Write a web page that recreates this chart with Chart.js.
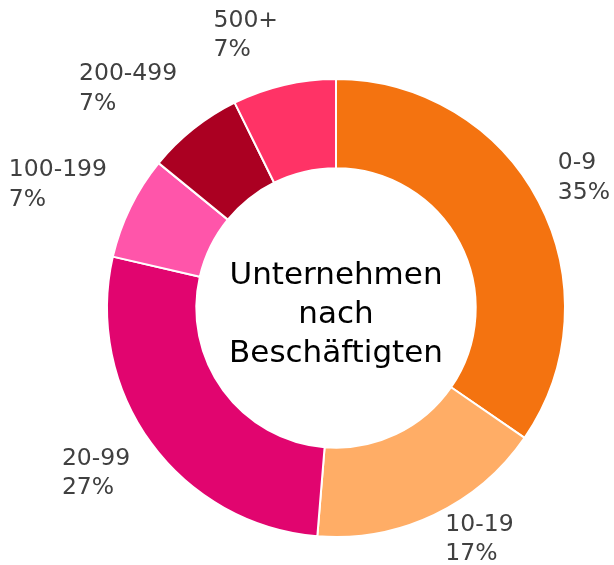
<!DOCTYPE html>
<html>
<head>
<meta charset="utf-8">
<script src="https://cdn.jsdelivr.net/npm/chart.js@4/dist/chart.umd.min.js"></script>
<style>
  body { margin: 0; background: #fff; }
  #wrap { width: 614px; height: 565px; }
</style>
</head>
<body>
<div id="wrap"><canvas id="chart"></canvas></div>
<script>
var categories = ['0-9', '10-19', '20-99', '100-199', '200-499', '500+'];
var shares = [34.6, 16.7, 27.3, 7.3, 6.8, 7.3];
var sliceColors = ['#f47310', '#ffad66', '#e1056f', '#ff55aa', '#ab0022', '#ff3366'];
var centerLines = ['Unternehmen', 'nach', 'Beschäftigten'];

var labelFont = '23.5px "DejaVu Sans", Verdana, sans-serif';
var centerFont = '31px "DejaVu Sans", Verdana, sans-serif';

// labels outside each slice: name and rounded percent
var outsideLabels = {
  id: 'outsideLabels',
  afterDatasetsDraw: function(chart) {
    var ctx = chart.ctx;
    var meta = chart.getDatasetMeta(0);
    ctx.save();
    ctx.font = labelFont;
    ctx.fillStyle = '#404040';
    ctx.textBaseline = 'middle';
    ctx.textAlign = 'left';
    var lineH = 29.5;
    for (var i = 0; i < meta.data.length; i++) {
      var arc = meta.data[i].getProps(['x', 'y', 'startAngle', 'endAngle', 'outerRadius'], true);
      var mid = (arc.startAngle + arc.endAngle) / 2;
      var dx = Math.cos(mid), dy = Math.sin(mid);
      var lines = [categories[i], Math.round(shares[i]) + '%'];
      var w = Math.max(ctx.measureText(lines[0]).width, ctx.measureText(lines[1]).width);
      var h = lines.length * lineH;
      var r = arc.outerRadius + 26;
      var bx = arc.x + r * dx + (dx >= 0 ? w / 2 : -w / 2);
      var by = arc.y + r * dy + dy * h / 2 * 0.85;
      // keep the block inside the canvas
      by = Math.min(by, chart.height - h / 2 + 4);
      by = Math.max(by, h / 2);
      bx = Math.min(bx, chart.width - w / 2 - 4);
      bx = Math.max(bx, w / 2 + 4);
      var left = bx - w / 2;
      var top = by - h / 2;
      for (var j = 0; j < lines.length; j++) {
        ctx.fillText(lines[j], left, top + lineH * (j + 0.5));
      }
    }
    ctx.restore();
  }
};

var centerText = {
  id: 'centerText',
  afterDraw: function(chart) {
    var ctx = chart.ctx;
    var arc = chart.getDatasetMeta(0).data[0];
    ctx.save();
    ctx.font = centerFont;
    ctx.fillStyle = '#000';
    ctx.textAlign = 'center';
    ctx.textBaseline = 'alphabetic';
    var lineH = 39;
    for (var i = 0; i < centerLines.length; i++) {
      ctx.fillText(centerLines[i], arc.x, arc.y + 15 + (i - 1) * lineH);
    }
    ctx.restore();
  }
};

new Chart(document.getElementById('chart'), {
  type: 'doughnut',
  data: {
    labels: categories,
    datasets: [{
      data: shares,
      backgroundColor: sliceColors,
      borderColor: '#ffffff',
      borderWidth: 2
    }]
  },
  options: {
    responsive: true,
    maintainAspectRatio: false,
    animation: false,
    cutout: '61%',
    layout: { padding: { left: 106, right: 48, top: 78, bottom: 27 } },
    plugins: {
      legend: { display: false },
      tooltip: { enabled: false }
    }
  },
  plugins: [outsideLabels, centerText]
});
</script>
</body>
</html>
